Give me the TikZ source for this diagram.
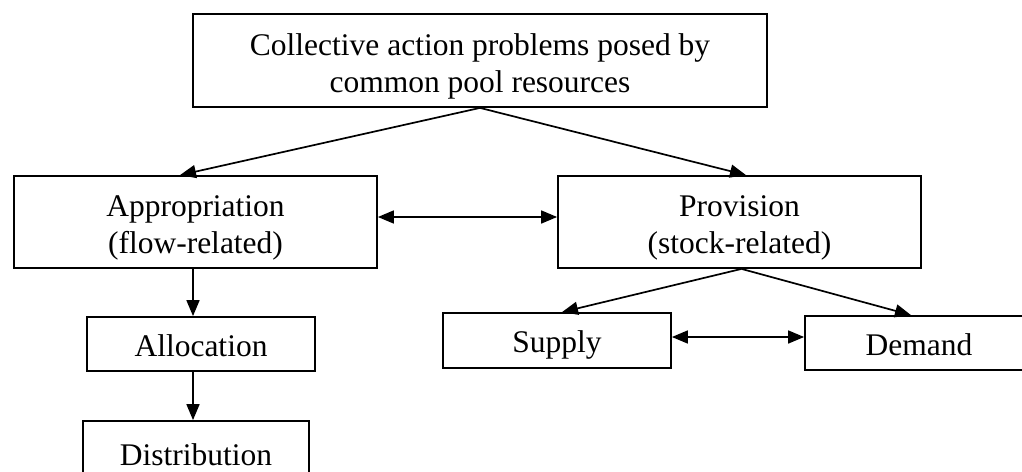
\documentclass[tikz,border=0pt]{standalone}
\usepackage{fontspec}
\setmainfont{Liberation Serif}
\usetikzlibrary{arrows.meta}
% taller first line pushes two-line labels a little lower in their boxes
\newcommand{\firstlinestrut}{\rule{0pt}{33.5pt}}
\tikzset{
  box/.style={draw, line width=1.8pt, fill=white, inner sep=0pt, align=center,
    font=\fontsize{31.5pt}{37pt}\selectfont},
  oneline/.style={box, text height=30pt, text depth=6pt},
  link/.style={line width=1.7pt, -{Triangle[length=16pt,width=13pt]}},
  twoway/.style={line width=1.7pt,
    {Triangle[length=16pt,width=13pt]}-{Triangle[length=16pt,width=13pt]}},
}
\begin{document}
\begin{tikzpicture}[x=1pt,y=-1pt]
\clip (0,0) rectangle (1022,471);
\fill[white] (0,0) rectangle (1022,471);

% boxes
\node[box, minimum width=574pt, minimum height=93pt] (top) at (480,60.5)
  {\firstlinestrut Collective action problems posed by\\common pool resources};
\node[box, minimum width=363pt, minimum height=92pt] (appr) at (195.5,222)
  {\firstlinestrut Appropriation\\(flow-related)};
\node[box, minimum width=363pt, minimum height=92pt] (prov) at (739.5,222)
  {\firstlinestrut Provision\\(stock-related)};
\node[oneline, minimum width=228pt, minimum height=54pt] (alloc) at (201,344) {Allocation};
\node[oneline, minimum width=226pt, minimum height=64pt] (dist) at (196,453) {Distribution};
\node[oneline, minimum width=228pt, minimum height=55pt] (supply) at (557,340.5) {Supply};
\node[oneline, minimum width=228pt, minimum height=54pt] (demand) at (919,343) {Demand};

% connectors
\draw[link] (top.south) -- ([xshift=-15.5pt]appr.north);
\draw[link] (top.south) -- ([xshift=6.5pt]prov.north);
\draw[twoway] ([yshift=5pt]appr.east) -- ([yshift=5pt]appr.east -| prov.west);
\draw[link] ([xshift=-2.5pt]appr.south) -- ([xshift=-2.5pt]appr.south |- alloc.north);
\draw[link] ([xshift=-8pt]alloc.south) -- ([xshift=-8pt]alloc.south |- dist.north);
\draw[link] ([xshift=2pt]prov.south) -- ([xshift=5pt]supply.north);
\draw[link] ([xshift=2pt]prov.south) -- ([xshift=-8pt]demand.north);
\draw[twoway] ([yshift=3.5pt]supply.east) -- ([yshift=3.5pt]supply.east -| demand.west);
\end{tikzpicture}
\end{document}
